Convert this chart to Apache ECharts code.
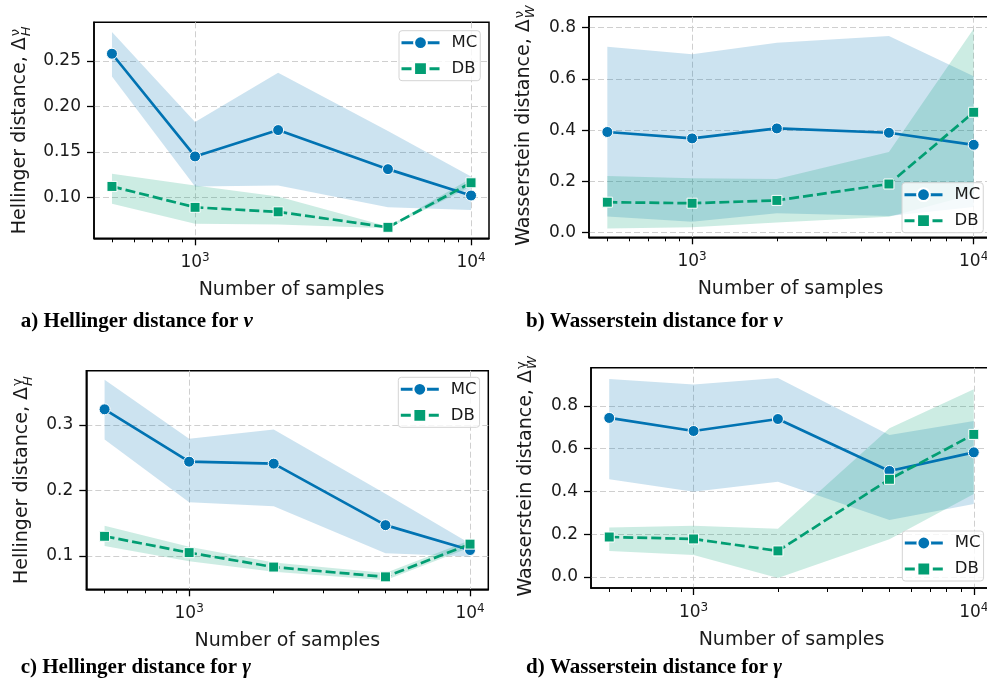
<!DOCTYPE html>
<html><head><meta charset="utf-8">
<script src="https://cdn.jsdelivr.net/npm/echarts@6/dist/echarts.min.js"></script>
<style>html,body{margin:0;padding:0;background:#fff}#c{width:987px;height:681px}</style>
</head><body><div id="c"></div>
<script>
// ---------- data ----------
const samples = [500, 1000, 2000, 5000, 10000];
const xMajorTicks = [1000, 10000];
const xMinorTicks = [500, 600, 700, 800, 900, 2000, 3000, 4000, 5000, 6000, 7000, 8000, 9000];
const xMin = 430.4, xMax = 11616;

// a) Hellinger distance for nu
const aMC     = [0.258, 0.145, 0.174, 0.131, 0.102];
const aMCLow  = [0.233, 0.112, 0.113, 0.089, 0.086];
const aMCHigh = [0.282, 0.183, 0.237, 0.173, 0.123];
const aDB     = [0.112, 0.089, 0.084, 0.067, 0.116];
const aDBLow  = [0.093, 0.071, 0.070, 0.066, 0.112];
const aDBHigh = [0.126, 0.113, 0.101, 0.068, 0.121];
const aYTicks = [0.10, 0.15, 0.20, 0.25];

// b) Wasserstein distance for nu
const bMC     = [0.393, 0.368, 0.407, 0.390, 0.343];
const bMCLow  = [0.063, 0.043, 0.076, 0.065, 0.100];
const bMCHigh = [0.726, 0.696, 0.741, 0.768, 0.611];
const bDB     = [0.119, 0.115, 0.126, 0.190, 0.470];
const bDBLow  = [0.016, 0.021, 0.040, 0.062, 0.150];
const bDBHigh = [0.221, 0.212, 0.210, 0.315, 0.796];
const bYTicks = [0.0, 0.2, 0.4, 0.6, 0.8];

// c) Hellinger distance for gamma
const cMC     = [0.324, 0.244, 0.241, 0.147, 0.109];
const cMCLow  = [0.278, 0.182, 0.176, 0.104, 0.099];
const cMCHigh = [0.369, 0.279, 0.293, 0.195, 0.119];
const cDB     = [0.130, 0.105, 0.083, 0.068, 0.118];
const cDBLow  = [0.115, 0.092, 0.076, 0.063, 0.113];
const cDBHigh = [0.146, 0.114, 0.090, 0.074, 0.124];
const cYTicks = [0.1, 0.2, 0.3];

// d) Wasserstein distance for gamma
const dMC     = [0.744, 0.683, 0.739, 0.496, 0.583];
const dMCLow  = [0.457, 0.399, 0.446, 0.267, 0.342];
const dMCHigh = [0.926, 0.900, 0.931, 0.664, 0.730];
const dDB     = [0.187, 0.178, 0.122, 0.457, 0.667];
const dDBLow  = [0.122, 0.103, -0.005, 0.176, 0.388];
const dDBHigh = [0.231, 0.240, 0.226, 0.696, 0.878];
const dYTicks = [0.0, 0.2, 0.4, 0.6, 0.8];

const seriesNames = ['MC', 'DB'];
const xTitle = 'Number of samples';

// ---------- style / layout ----------
const BLUE = '#0173b2', GREEN = '#029e73';
const BLUE_FILL = 'rgba(1,115,178,0.2)', GREEN_FILL = 'rgba(2,158,115,0.2)';
const FONT = 'DejaVu Sans';
const TXT = '#1a1a1a';

const panels = [
  { grid: {left: 94, top: 22.3, width: 395, height: 216}, ymin: 0.0549, ymax: 0.2926, dec: 2, ticks: aYTicks,
    mc: aMC, mcLo: aMCLow, mcHi: aMCHigh, db: aDB, dbLo: aDBLow, dbHi: aDBHigh,
    legend: {left: 399, top: 30.7}, ylab: 'Hellinger distance, Δ', sup: 'ν', sub: 'H', ylabX: 20.3, xlabY: 290.2,
    cap: 'a) Hellinger distance for ', capSym: 'ν', capX: 20.7, capY: 322 },
  { grid: {left: 589, top: 16.7, width: 403, height: 220.6}, ymin: -0.018, ymax: 0.843, dec: 1, ticks: bYTicks,
    mc: bMC, mcLo: bMCLow, mcHi: bMCHigh, db: bDB, dbLo: bDBLow, dbHi: bDBHigh,
    legend: {left: 902, top: 182.7}, ylab: 'Wasserstein distance, Δ', sup: 'ν', sub: 'W', ylabX: 524.5, xlabY: 289.2,
    cap: 'b) Wasserstein distance for ', capSym: 'ν', capX: 526, capY: 321.2 },
  { grid: {left: 86.3, top: 370.7, width: 402, height: 218.6}, ymin: 0.049, ymax: 0.383, dec: 1, ticks: cYTicks,
    mc: cMC, mcLo: cMCLow, mcHi: cMCHigh, db: cDB, dbLo: cDBLow, dbHi: cDBHigh,
    legend: {left: 398.3, top: 377.3}, ylab: 'Hellinger distance, Δ', sup: 'γ', sub: 'H', ylabX: 22.2, xlabY: 640.9,
    cap: 'c) Hellinger distance for ', capSym: 'γ', capX: 20.7, capY: 668 },
  { grid: {left: 591, top: 367.7, width: 401, height: 220.3}, ymin: -0.0515, ymax: 0.979, dec: 1, ticks: dYTicks,
    mc: dMC, mcLo: dMCLow, mcHi: dMCHigh, db: dDB, dbLo: dDBLow, dbHi: dDBHigh,
    legend: {left: 902.3, top: 531}, ylab: 'Wasserstein distance, Δ', sup: 'γ', sub: 'W', ylabX: 526.5, xlabY: 640.2,
    cap: 'd) Wasserstein distance for ', capSym: 'γ', capX: 526, capY: 667.5 }
];

const grid = [], xAxis = [], yAxis = [], series = [], legend = [], graphic = [];
const gridLine = {show: true, lineStyle: {color: '#cfcfcf', width: 1, type: [6, 3]}};

const mctx = document.createElement('canvas').getContext('2d');
function textW(t, font) { mctx.font = font; return mctx.measureText(t).width; }

panels.forEach((p, i) => {
  grid.push(Object.assign({show: true, borderColor: '#000', borderWidth: 1.5, backgroundColor: 'transparent',
    containLabel: false, outerBoundsMode: 'none'}, p.grid));

  // major x axis
  xAxis.push({
    gridIndex: i, type: 'log', logBase: 10, min: xMin, max: xMax, position: 'bottom',
    axisLine: {show: true, onZero: false, lineStyle: {color: '#000', width: 1.5}},
    axisTick: {show: true, length: 7, lineStyle: {color: '#000', width: 1.3}, customValues: xMajorTicks},
    axisLabel: {
      customValues: xMajorTicks, margin: 14, color: TXT, fontFamily: FONT, fontSize: 17,
      formatter: v => {
        const e = Math.round(Math.log10(v));
        if (Math.abs(Math.log10(v) - e) > 1e-6) return '';
        return '{n|10}{s|' + e + '}';
      },
      rich: {
        n: {fontSize: 17, fontFamily: FONT, color: TXT, lineHeight: 21},
        s: {fontSize: 12, fontFamily: FONT, color: TXT, verticalAlign: 'top', lineHeight: 21}
      }
    },
    splitLine: gridLine
  });
  // minor x ticks
  xAxis.push({
    gridIndex: i, type: 'log', logBase: 10, min: xMin, max: xMax, position: 'bottom',
    axisLine: {show: false, onZero: false},
    axisTick: {show: true, length: 4, lineStyle: {color: '#000', width: 1}, customValues: xMinorTicks},
    axisLabel: {show: false},
    splitLine: {show: false}
  });
  yAxis.push({
    gridIndex: i, type: 'value', min: p.ymin, max: p.ymax,
    axisLine: {show: true, onZero: false, lineStyle: {color: '#000', width: 1.5}},
    axisTick: {show: true, length: 7, lineStyle: {color: '#000', width: 1.3}, customValues: p.ticks},
    axisLabel: {customValues: p.ticks, margin: 13, color: TXT, fontFamily: FONT, fontSize: 17,
      formatter: v => v.toFixed(p.dec)},
    splitLine: gridLine
  });

  const xi = 2 * i;
  function band(lo, hi, fill, name) {
    return {
      type: 'custom', name: name, xAxisIndex: xi, yAxisIndex: i, z: 1, silent: true,
      data: samples.map((s, k) => [s, lo[k], hi[k]]),
      encode: {x: 0, y: [1, 2]},
      renderItem: (params, api) => {
        if (params.dataIndex !== 0) return null;
        const pts = [];
        for (let k = 0; k < samples.length; k++) pts.push(api.coord([samples[k], hi[k]]));
        for (let k = samples.length - 1; k >= 0; k--) pts.push(api.coord([samples[k], lo[k]]));
        return {type: 'polygon', shape: {points: pts}, style: {fill: fill, stroke: null}};
      }
    };
  }
  series.push(band(p.mcLo, p.mcHi, BLUE_FILL, 'MC band'));
  series.push(band(p.dbLo, p.dbHi, GREEN_FILL, 'DB band'));
  series.push({
    type: 'line', name: seriesNames[0], xAxisIndex: xi, yAxisIndex: i, z: 3,
    data: samples.map((s, k) => [s, p.mc[k]]),
    symbol: 'circle', symbolSize: 11, showAllSymbol: true,
    itemStyle: {color: BLUE, borderColor: '#fff', borderWidth: 1},
    lineStyle: {color: BLUE, width: 2.7},
    emphasis: {disabled: true}
  });
  series.push({
    type: 'line', name: seriesNames[1], xAxisIndex: xi, yAxisIndex: i, z: 3,
    data: samples.map((s, k) => [s, p.db[k]]),
    symbol: 'rect', symbolSize: 10, showAllSymbol: true,
    itemStyle: {color: GREEN, borderColor: '#fff', borderWidth: 1},
    lineStyle: {color: GREEN, width: 2.7, type: [10, 4]},
    emphasis: {disabled: true}
  });

  legend.push({
    data: seriesNames, orient: 'vertical', left: p.legend.left, top: p.legend.top,
    itemWidth: 38, itemHeight: 16, itemGap: 6, padding: [2, 3, 2, 1],
    backgroundColor: 'rgba(255,255,255,0.8)', borderColor: '#d4d4d4', borderWidth: 1, borderRadius: 3,
    lineStyle: {width: 3},
    textStyle: {fontFamily: FONT, fontSize: 16.5, color: TXT, lineHeight: 20, padding: [0, 0, 0, 7]},
    selectedMode: false
  });

  // y-axis title with stacked super/subscript
  const mainFont = '19px "' + FONT + '"';
  const mainW = textW(p.ylab, mainFont);
  const extraW = 10;
  const total = mainW + 1 + extraW;
  const cy = p.grid.top + p.grid.height / 2;
  graphic.push({
    type: 'group', x: p.ylabX, y: cy, rotation: Math.PI / 2,
    children: [
      {type: 'text', x: -total / 2, y: 0,
        style: {text: p.ylab, fontFamily: FONT, fontSize: 19, fill: TXT, align: 'left', verticalAlign: 'middle'}},
      {type: 'text', x: -total / 2 + mainW + 1, y: -5,
        style: {text: p.sup, fontFamily: FONT, fontSize: 13, fill: TXT, align: 'left', verticalAlign: 'middle'}},
      {type: 'text', x: -total / 2 + mainW + 1, y: 6,
        style: {text: p.sub, fontFamily: FONT, fontStyle: 'italic', fontSize: 13, fill: TXT, align: 'left', verticalAlign: 'middle'}}
    ]
  });
  // x-axis title
  graphic.push({
    type: 'text', x: p.grid.left + p.grid.width / 2, y: p.xlabY,
    style: {text: xTitle, fontFamily: FONT, fontSize: 19, fill: TXT, align: 'center', verticalAlign: 'middle'}
  });
  // caption
  graphic.push({
    type: 'text', x: p.capX, y: p.capY,
    style: {
      text: '{b|' + p.cap + '}{i|' + p.capSym + '}', align: 'left', verticalAlign: 'middle',
      rich: {
        b: {fontFamily: 'Liberation Serif', fontWeight: 'bold', fontSize: 21, fill: '#000', color: '#000'},
        i: {fontFamily: 'Liberation Serif', fontWeight: 'bold', fontStyle: 'italic', fontSize: 21, fill: '#000', color: '#000'}
      }
    }
  });
});

const chart = echarts.init(document.getElementById('c'), null, {renderer: 'canvas'});
chart.setOption({
  animation: false,
  backgroundColor: '#fff',
  grid, xAxis, yAxis, series, legend, graphic
});
</script>
</body></html>
